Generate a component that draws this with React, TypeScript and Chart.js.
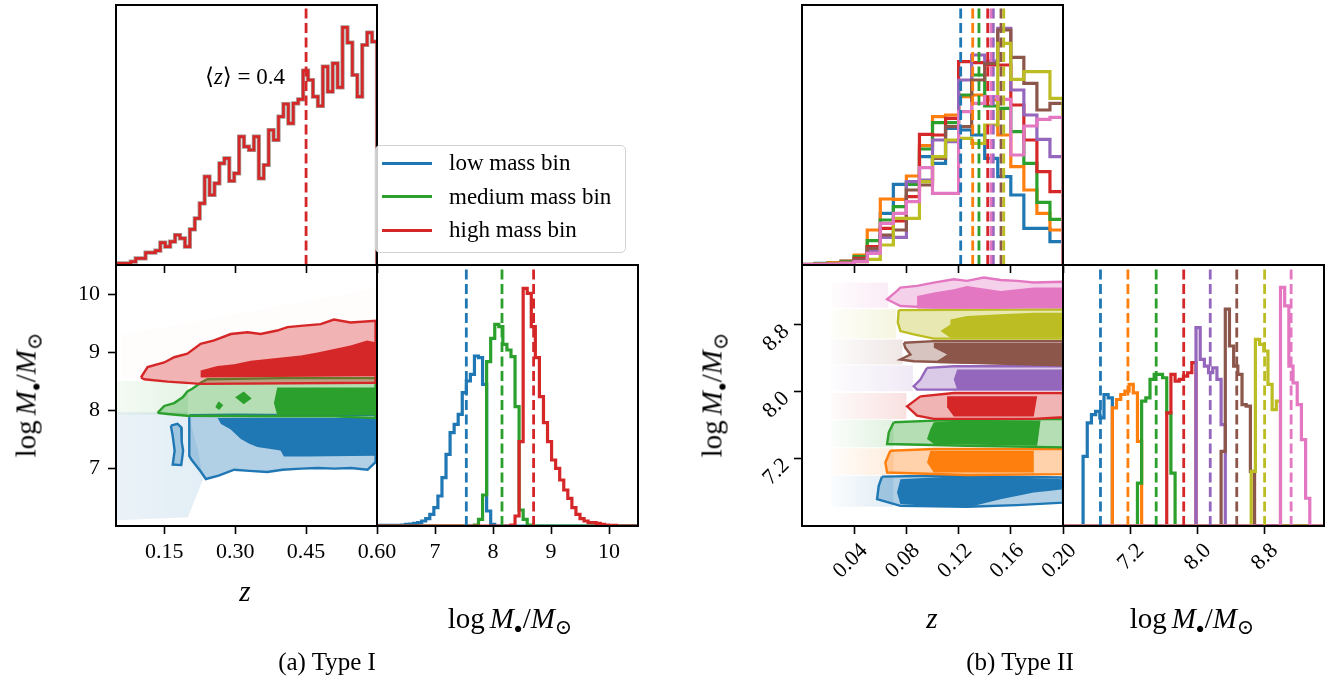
import React, { useEffect, useRef } from "react";
import { Chart, registerables } from "chart.js";
Chart.register(...registerables);

// ================= DATA: (a) Type I =================
const t1ZRange = [0.048, 0.6];
const t1MRange = [6.0, 10.5];
const t1ZTicks = [0.15, 0.3, 0.45, 0.6];
const t1ZTickLabels = ["0.15", "0.30", "0.45", "0.60"];
const t1MTicks = [7, 8, 9, 10];
const t1MTickLabels = ["7", "8", "9", "10"];
const t1ZHist = [5, 5, 5, 10, 20, 20, 37, 37, 43, 67, 55, 70, 90, 80, 55, 107, 140, 185, 265, 210, 245, 305, 320, 252, 275, 385, 355, 345, 385, 260, 300, 405, 375, 445, 483, 425, 485, 497, 583, 555, 505, 477, 595, 520, 605, 533, 713, 667, 570, 505, 660, 697, 670];
const t1ZHistMax = 780;
const t1MeanZ = 0.45;
const t1MeanZText = "0.4";
const t1MassBinWidth = 0.07;
const t1LowStart = 6.0;
const t1LowCounts = [2, 2, 2, 2, 2, 2, 3, 5, 6, 8, 10, 15, 22, 35, 55, 90, 145, 215, 280, 305, 335, 400, 435, 455, 510, 505, 425, 45, 5];
const t1MedStart = 7.68;
const t1MedCounts = [3, 20, 93, 493, 563, 605, 598, 545, 528, 508, 358, 48, 20, 3];
const t1HighStart = 8.31;
const t1HighCounts = [3, 30, 253, 713, 698, 598, 505, 388, 310, 253, 198, 173, 138, 108, 83, 55, 35, 22, 15, 10, 10, 8, 5, 3, 2, 2];
const t1MHistMax = 783;
const t1MedianM = [7.54, 8.155, 8.7];
const t1LegendLabels = ["low mass bin", "medium mass bin", "high mass bin"];

// contours / point clouds (z, logM)
const t1LowCloud = [[0.05, 7.96], [0.2, 7.96], [0.222, 7.3], [0.232, 6.8], [0.2, 6.15], [0.05, 6.1]];
const t1MedCloud = [[0.05, 8.5], [0.2, 8.5], [0.2, 7.92], [0.05, 7.92]];
const t1HighCloud = [[0.06, 8.55], [0.597, 8.55], [0.597, 10.1], [0.06, 9.3]];
const t1LowOuter = [[0.203, 7.91], [0.3, 7.92], [0.45, 7.91], [0.597, 7.92], [0.597, 7.1], [0.58, 6.97], [0.545, 7.0], [0.51, 6.99], [0.475, 7.0], [0.44, 6.99], [0.4, 6.97], [0.368, 6.93], [0.33, 6.95], [0.298, 6.97], [0.265, 6.87], [0.238, 6.81], [0.228, 6.93], [0.207, 7.15], [0.203, 7.21]];
const t1LowLobe = [[0.164, 7.73], [0.178, 7.76], [0.186, 7.7], [0.187, 7.45], [0.19, 7.3], [0.186, 7.05], [0.168, 7.06], [0.172, 7.3], [0.168, 7.55]];
const t1LowInner = [[0.263, 7.86], [0.4, 7.86], [0.597, 7.86], [0.597, 7.21], [0.45, 7.2], [0.403, 7.2], [0.396, 7.3], [0.347, 7.36], [0.33, 7.42], [0.312, 7.5], [0.29, 7.67], [0.27, 7.76]];
const t1MedOuter = [[0.136, 7.95], [0.15, 8.07], [0.171, 8.12], [0.189, 8.22], [0.199, 8.32], [0.21, 8.37], [0.227, 8.47], [0.2415, 8.53], [0.4, 8.55], [0.597, 8.55], [0.597, 7.86], [0.509, 7.89], [0.368, 7.89], [0.199, 7.9], [0.157, 7.93]];
const t1MedInner = [[0.389, 8.39], [0.597, 8.39], [0.597, 7.91], [0.389, 7.91], [0.382, 8.12]];
const t1MedBlobA = [[0.3, 8.22], [0.318, 8.32], [0.335, 8.2], [0.318, 8.1]];
const t1MedBlobB = [[0.258, 8.05], [0.265, 8.15], [0.275, 8.08], [0.266, 8.0]];
const t1HighOuter = [[0.1007, 8.56], [0.1148, 8.74], [0.15, 8.82], [0.171, 8.91], [0.199, 8.97], [0.227, 9.14], [0.2556, 9.2], [0.2908, 9.31], [0.326, 9.34], [0.354, 9.31], [0.389, 9.37], [0.4105, 9.43], [0.4386, 9.45], [0.481, 9.48], [0.509, 9.56], [0.544, 9.51], [0.597, 9.54], [0.597, 8.47], [0.227, 8.45], [0.157, 8.49], [0.1078, 8.53]];
const t1HighInner = [[0.227, 8.68], [0.2626, 8.76], [0.2978, 8.79], [0.333, 8.85], [0.368, 8.88], [0.403, 8.91], [0.4386, 8.94], [0.474, 8.99], [0.509, 9.05], [0.544, 9.11], [0.579, 9.2], [0.597, 9.17], [0.597, 8.58], [0.227, 8.56]];

// ================= DATA: (b) Type II =================
const t2ZRange = [0, 0.2];
const t2MRange = [6.39, 9.51];
const t2ZTicks = [0.04, 0.08, 0.12, 0.16, 0.2];
const t2ZTickLabels = ["0.04", "0.08", "0.12", "0.16", "0.20"];
const t2MTicks = [7.2, 8.0, 8.8];
const t2MTickLabels = ["7.2", "8.0", "8.8"];
const t2ZBinWidth = 0.01;
const t2ZHistMax = 780;
const t2MHistMax = 780;
const t2MassBinWidth = 0.05;
// per mass bin (blue, orange, green, red, purple, brown, olive, pink)
const t2ZHistBlue = [2, 5, 7, 12, 25, 53, 155, 242, 247, 325, 305, 410, 405, 390, 320, 265, 210, 110, 110, 70];
const t2ZHistOrange = [2, 4, 7, 12, 30, 105, 198, 197, 267, 358, 445, 450, 505, 510, 495, 390, 295, 225, 155, 105];
const t2ZHistGreen = [1, 3, 5, 10, 25, 73, 135, 175, 242, 348, 427, 427, 510, 570, 477, 470, 400, 305, 188, 137];
const t2ZHistRed = [1, 2, 4, 8, 20, 55, 110, 132, 205, 392, 390, 440, 610, 607, 600, 600, 480, 375, 280, 220];
const t2ZHistPurple = [1, 2, 3, 6, 15, 40, 83, 83, 250, 255, 375, 370, 555, 630, 612, 710, 525, 450, 377, 325];
const t2ZHistBrown = [1, 2, 3, 6, 15, 50, 90, 105, 225, 240, 320, 415, 415, 555, 605, 705, 623, 545, 465, 485];
const t2ZHistOlive = [1, 2, 3, 5, 10, 17, 60, 140, 140, 250, 325, 375, 380, 365, 420, 665, 557, 580, 580, 500];
const t2ZHistPink = [1, 2, 3, 5, 10, 35, 125, 155, 190, 292, 215, 215, 460, 485, 505, 497, 330, 417, 437, 443];
const t2MeanZ = [0.1216, 0.1308, 0.1356, 0.1423, 0.1466, 0.1525, 0.1546, 0.1448];
const t2MStarts = [6.63, 6.98, 7.28, 7.63, 7.98, 8.28, 8.64, 8.99];
const t2MHistBlue = [208, 308, 333, 343, 323, 393, 383];
const t2MHistOrange = [353, 378, 393, 403, 423, 398, 253];
const t2MHistGreen = [128, 373, 383, 438, 453, 453, 443, 338, 158];
const t2MHistRed = [338, 453, 433, 438, 448, 458, 488];
const t2MHistPurple = [593, 498, 478, 458, 473, 438, 303];
const t2MHistBrown = [223, 648, 538, 478, 453, 363, 358, 163];
const t2MHistOlive = [163, 558, 543, 523, 423, 348, 373];
const t2MHistPink = [713, 658, 478, 428, 363, 258, 83];
const t2MedianM = [6.838, 7.166, 7.504, 7.833, 8.15, 8.467, 8.8, 9.117];

const t2Clouds = [
  [[0.022, 6.62], [0.07, 6.62], [0.07, 6.99], [0.022, 6.99]],
  [[0.022, 7.0], [0.07, 7.0], [0.07, 7.32], [0.022, 7.32]],
  [[0.022, 7.33], [0.07, 7.33], [0.07, 7.66], [0.022, 7.66]],
  [[0.022, 7.67], [0.08, 7.67], [0.08, 7.98], [0.022, 7.98]],
  [[0.022, 8.0], [0.085, 8.0], [0.085, 8.31], [0.022, 8.31]],
  [[0.022, 8.32], [0.077, 8.32], [0.077, 8.62], [0.022, 8.62]],
  [[0.022, 8.63], [0.072, 8.63], [0.072, 8.98], [0.022, 8.98]],
  [[0.022, 9.0], [0.066, 9.0], [0.066, 9.3], [0.022, 9.3]],
];
const t2Outer = [
  [[0.0613, 6.98], [0.101, 6.99], [0.2, 6.97], [0.2, 6.67], [0.1649, 6.64], [0.1265, 6.62], [0.0754, 6.63], [0.0575, 6.71], [0.0588, 6.87]],
  [[0.0677, 7.29], [0.101, 7.31], [0.2, 7.31], [0.2, 7.01], [0.1265, 7.0], [0.0652, 7.03], [0.0639, 7.15]],
  [[0.0703, 7.63], [0.101, 7.65], [0.2, 7.67], [0.2, 7.33], [0.1265, 7.35], [0.0652, 7.37], [0.0665, 7.51]],
  [[0.0907, 7.94], [0.1163, 7.98], [0.2, 7.98], [0.2, 7.69], [0.1776, 7.67], [0.101, 7.67], [0.0882, 7.71], [0.0805, 7.82], [0.0856, 7.88]],
  [[0.0958, 8.28], [0.1163, 8.3], [0.2, 8.3], [0.2, 8.02], [0.0882, 8.02], [0.0856, 8.06], [0.0907, 8.14]],
  [[0.078, 8.58], [0.101, 8.6], [0.2, 8.6], [0.2, 8.31], [0.0856, 8.36], [0.0754, 8.38], [0.0831, 8.44], [0.0792, 8.52]],
  [[0.0741, 8.97], [0.2, 8.98], [0.2, 8.63], [0.101, 8.63], [0.0856, 8.68], [0.0754, 8.72], [0.0734, 8.82]],
  [[0.0728, 9.2], [0.0754, 9.24], [0.0882, 9.26], [0.101, 9.3], [0.1163, 9.34], [0.1265, 9.32], [0.1393, 9.36], [0.1521, 9.33], [0.1649, 9.32], [0.1776, 9.3], [0.2, 9.31], [0.2, 9.02], [0.1521, 9.0], [0.101, 9.0], [0.0754, 9.02], [0.0677, 9.08], [0.0652, 9.1]],
];
const t2Inner = [
  [[0.0754, 6.95], [0.1265, 6.99], [0.2, 6.95], [0.2, 6.83], [0.1904, 6.81], [0.1776, 6.79], [0.1521, 6.71], [0.1265, 6.61], [0.0754, 6.65], [0.0728, 6.79]],
  [[0.0984, 7.29], [0.1776, 7.29], [0.1776, 7.03], [0.101, 7.03], [0.0958, 7.15]],
  [[0.101, 7.63], [0.1214, 7.65], [0.1828, 7.65], [0.1802, 7.35], [0.101, 7.37], [0.0958, 7.43], [0.0984, 7.55]],
  [[0.1112, 7.94], [0.1802, 7.94], [0.1776, 7.7], [0.1163, 7.7], [0.1112, 7.81]],
  [[0.1189, 8.26], [0.2, 8.26], [0.2, 8.02], [0.1189, 8.02], [0.1163, 8.14]],
  [[0.101, 8.58], [0.2, 8.58], [0.2, 8.31], [0.101, 8.34], [0.1112, 8.44], [0.101, 8.52]],
  [[0.1137, 8.86], [0.1265, 8.9], [0.1521, 8.92], [0.1776, 8.94], [0.2, 8.94], [0.2, 8.64], [0.1137, 8.64], [0.1061, 8.72], [0.1137, 8.8]],
  [[0.0882, 9.02], [0.0882, 9.14], [0.101, 9.18], [0.1163, 9.22], [0.1265, 9.26], [0.1521, 9.2], [0.1776, 9.24], [0.2, 9.24], [0.2, 8.99], [0.0882, 8.99]],
];

// ================= STYLE =================
const W = 1340;
const H = 681;
const FONT = "'Liberation Serif', 'Times New Roman', 'DejaVu Serif', serif";
const C = {
  blue: [31, 119, 180], orange: [255, 127, 14], green: [44, 160, 44], red: [214, 39, 40],
  purple: [148, 103, 189], brown: [140, 86, 75], olive: [188, 189, 34], pink: [227, 119, 194],
};
const rgba = (c: number[], a = 1) => `rgba(${c[0]},${c[1]},${c[2]},${a})`;
const t1Colors = [C.blue, C.green, C.red];
const t2Colors = [C.blue, C.orange, C.green, C.red, C.purple, C.brown, C.olive, C.pink];
const LW = 3.2;

// ================= HELPERS =================
function histPoints(start: number, width: number, counts: number[], lo: number, hi: number) {
  const pts: any[] = [{ x: lo, y: 0 }, { x: start, y: 0 }];
  counts.forEach((c, i) => pts.push({ x: start + i * width, y: c }));
  const end = start + counts.length * width;
  pts.push({ x: end, y: counts[counts.length - 1] });
  pts.push({ x: end, y: 0 });
  pts.push({ x: hi, y: 0 });
  return pts;
}
const hist = (start: number, width: number, counts: number[], lo: number, hi: number, color: string, lw = LW) => ({
  data: histPoints(start, width, counts, lo, hi), borderColor: color, borderWidth: lw,
  stepped: "before", fill: false, pointRadius: 0,
});
const vline = (x: number, top: number, color: number[]) => ({
  data: [{ x, y: 0 }, { x, y: top }], borderColor: rgba(color), borderWidth: 2.8,
  borderDash: [10, 4.5], fill: false, pointRadius: 0,
});
const closed = (pts: number[][]) => [...pts, pts[0]].map(([x, y]) => ({ x, y }));
const region = (pts: number[][], fillCol: any, stroke?: string, width = 1) => ({
  data: closed(pts), backgroundColor: fillCol, borderColor: stroke || "rgba(0,0,0,0)", borderWidth: stroke ? width : 1,
  fill: "shape", pointRadius: 0,
});
// faint point-cloud: horizontal fade (denser towards the contours)
const cloud = (pts: number[][], color: number[], aL: number, aR: number) => region(pts, (ctx: any) => {
  const chart = ctx.chart;
  const area = chart.chartArea;
  if (!area) return rgba(color, aR);
  const xs = pts.map((p) => p[0]);
  const x0 = chart.scales.x.getPixelForValue(Math.min(...xs));
  const x1 = chart.scales.x.getPixelForValue(Math.max(...xs));
  const g = chart.ctx.createLinearGradient(x0, 0, x1, 0);
  g.addColorStop(0, rgba(color, aL));
  g.addColorStop(1, rgba(color, aR));
  return g;
});

const framePlugin = {
  id: "frame",
  afterDatasetsDraw(chart: any) {
    const { ctx, chartArea: a } = chart;
    ctx.save();
    ctx.strokeStyle = "#000";
    ctx.lineWidth = 2;
    ctx.strokeRect(a.left, a.top, a.right - a.left, a.bottom - a.top);
    ctx.restore();
  },
};

type AxisSpec = { range: number[]; ticks?: number[]; labels?: string[]; rot?: number; off?: number; pad?: number };
const XH = 60;
const YW = 80;
function axisCfg(kind: "x" | "y", a: AxisSpec) {
  const show = !!a.ticks;
  return {
    type: "linear",
    position: kind === "x" ? "bottom" : "left",
    min: a.range[0],
    max: a.range[1],
    display: show,
    afterBuildTicks: (s: any) => { if (a.ticks) s.ticks = a.ticks.map((v) => ({ value: v })); },
    afterFit: (s: any) => { if (!show) return; if (kind === "x") s.height = XH; else s.width = YW; },
    grid: { display: true, drawOnChartArea: false, drawTicks: true, tickLength: 8, tickWidth: 1.6, tickColor: "#000" },
    border: { display: false },
    ticks: {
      display: !!a.labels, autoSkip: false, color: "#000",
      font: { family: FONT, size: 22 },
      padding: a.pad ?? 5,
      minRotation: a.rot || 0, maxRotation: a.rot || 0,
      labelOffset: a.off || 0,
      callback: (_v: any, i: number) => (a.labels ? a.labels[i] : ""),
    },
  };
}
function makeConfig(box: number[], xa: AxisSpec, ya: AxisSpec, datasets: any[]) {
  const xShow = !!xa.ticks;
  const yShow = !!ya.ticks;
  return {
    type: "line",
    data: { datasets: datasets.map((d, i) => ({ ...d, order: datasets.length - i })) },
    options: {
      responsive: false, animation: false, devicePixelRatio: 1, events: [],
      layout: { padding: { left: box[0] - (yShow ? YW : 0), top: box[1], right: W - box[2], bottom: H - box[3] - (xShow ? XH : 0) } },
      plugins: { legend: { display: false }, tooltip: { enabled: false } },
      scales: { x: axisCfg("x", xa), y: axisCfg("y", ya) },
      elements: { point: { radius: 0 }, line: { tension: 0 } },
    },
    plugins: [framePlugin],
  };
}

// ================= PANELS =================
const A = { x0: 116, x1: 377, x2: 638 };
const B = { x0: 802, x1: 1063, x2: 1324 };
const Y = { y0: 5, y1: 265, y2: 526 };

const t1MassSeries = [
  [t1LowStart, t1LowCounts], [t1MedStart, t1MedCounts], [t1HighStart, t1HighCounts],
] as [number, number[]][];
const t2ZSeries = [t2ZHistBlue, t2ZHistOrange, t2ZHistGreen, t2ZHistRed, t2ZHistPurple, t2ZHistBrown, t2ZHistOlive, t2ZHistPink];
const t2MSeries = [t2MHistBlue, t2MHistOrange, t2MHistGreen, t2MHistRed, t2MHistPurple, t2MHistBrown, t2MHistOlive, t2MHistPink];
const t1ZBinWidth = (t1ZRange[1] - t1ZRange[0]) / t1ZHist.length;

const configs = [
  // (a) top: z histogram (grey halo under the red step line)
  () => makeConfig([A.x0, Y.y0, A.x1, Y.y1], { range: t1ZRange, ticks: t1ZTicks }, { range: [0, t1ZHistMax] }, [
    hist(t1ZRange[0], t1ZBinWidth, t1ZHist, t1ZRange[0], t1ZRange[1], "rgba(90,70,60,0.55)", 4.2),
    hist(t1ZRange[0], t1ZBinWidth, t1ZHist, t1ZRange[0], t1ZRange[1], rgba(C.red), 2.6),
    vline(t1MeanZ, t1ZHistMax, C.red),
  ]),
  // (a) z vs logM
  () => makeConfig([A.x0, Y.y1, A.x1, Y.y2],
    { range: t1ZRange, ticks: t1ZTicks, labels: t1ZTickLabels },
    { range: t1MRange, ticks: t1MTicks, labels: t1MTickLabels, pad: 8 }, [
    cloud(t1LowCloud, C.blue, 0.09, 0.13),
    cloud(t1MedCloud, C.green, 0.05, 0.12),
    region(t1HighCloud, rgba(C.red, 0.012)),
    region(t1LowOuter, rgba(C.blue, 0.35), rgba(C.blue), 2.4),
    region(t1LowLobe, rgba(C.blue, 0.35), rgba(C.blue), 2.4),
    region(t1LowInner, rgba(C.blue)),
    region(t1MedOuter, rgba(C.green, 0.35), rgba(C.green), 2.4),
    region(t1MedInner, rgba(C.green)),
    region(t1MedBlobA, rgba(C.green)),
    region(t1MedBlobB, rgba(C.green)),
    region(t1HighOuter, rgba(C.red, 0.35), rgba(C.red), 2.4),
    region(t1HighInner, rgba(C.red)),
  ]),
  // (a) logM histogram
  () => makeConfig([A.x1, Y.y1, A.x2, Y.y2], { range: t1MRange, ticks: t1MTicks, labels: t1MTickLabels }, { range: [0, t1MHistMax] }, [
    ...t1MassSeries.map(([s, c], i) => hist(s, t1MassBinWidth, c, t1MRange[0], t1MRange[1], rgba(t1Colors[i]))),
    ...t1MedianM.map((m, i) => vline(m, t1MHistMax, t1Colors[i])),
  ]),
  // (b) top: z histograms
  () => makeConfig([B.x0, Y.y0, B.x1, Y.y1], { range: t2ZRange, ticks: t2ZTicks }, { range: [0, t2ZHistMax] }, [
    ...t2ZSeries.map((c, i) => hist(t2ZRange[0], t2ZBinWidth, c, t2ZRange[0], t2ZRange[1], rgba(t2Colors[i]))),
    ...t2MeanZ.map((m, i) => vline(m, t2ZHistMax, t2Colors[i])),
  ]),
  // (b) z vs logM
  () => makeConfig([B.x0, Y.y1, B.x1, Y.y2],
    { range: t2ZRange, ticks: t2ZTicks, labels: t2ZTickLabels, rot: 45, off: 10, pad: 4 },
    { range: t2MRange, ticks: t2MTicks, labels: t2MTickLabels, rot: 45, off: 4, pad: 8 }, [
    ...t2Clouds.map((p, i) => cloud(p, t2Colors[i], 0.02, 0.14)),
    ...t2Outer.flatMap((p, i) => [
      region(p, rgba(t2Colors[i], 0.35), rgba(t2Colors[i]), 2.4),
      region(t2Inner[i], rgba(t2Colors[i])),
    ]),
  ]),
  // (b) logM histograms
  () => makeConfig([B.x1, Y.y1, B.x2, Y.y2], { range: t2MRange, ticks: t2MTicks, labels: t2MTickLabels, rot: 45, off: 10, pad: 4 }, { range: [0, t2MHistMax] }, [
    ...t2MSeries.map((c, i) => hist(t2MStarts[i], t2MassBinWidth, c, t2MRange[0], t2MRange[1], rgba(t2Colors[i]))),
    ...t2MedianM.map((m, i) => vline(m, t2MHistMax, t2Colors[i])),
  ]),
];

function ChartLayer({ make }: { make: () => any }) {
  const ref = useRef<HTMLCanvasElement>(null);
  useEffect(() => {
    const chart = new Chart(ref.current as HTMLCanvasElement, make());
    return () => chart.destroy();
  }, []);
  return <canvas ref={ref} width={W} height={H} style={{ position: "absolute", left: 0, top: 0, width: W, height: H }} />;
}

function Txt({ x, y, size, rot, children }: any) {
  return (
    <div style={{
      position: "absolute", left: x, top: y, transform: `translate(-50%,-50%)${rot ? ` rotate(${rot}deg)` : ""}`,
      fontFamily: FONT, fontSize: size, whiteSpace: "nowrap", lineHeight: 1, color: "#000",
    }}>{children}</div>
  );
}

function MassLabel() {
  return (
    <span>
      log<span style={{ display: "inline-block", width: 5 }} />
      <i>M</i>
      <span style={{ fontSize: "0.5em", position: "relative", top: "0.35em" }}>●</span>
      /<i>M</i>
      <span style={{ fontSize: "0.72em", position: "relative", top: "0.3em" }}>⊙</span>
    </span>
  );
}

function Legend() {
  return (
    <div style={{
      position: "absolute", left: 375, top: 145, width: 251, height: 108, boxSizing: "border-box",
      border: "1.5px solid #d2d2d2", borderRadius: 5, background: "rgba(255,255,255,0.8)",
    }}>
      {t1LegendLabels.map((lab, i) => (
        <React.Fragment key={lab}>
          <div style={{ position: "absolute", left: 6, top: 17 + i * 33.5 - 1.5, width: 50, height: 3, background: rgba(t1Colors[i]) }} />
          <div style={{ position: "absolute", left: 73, top: 17 + i * 33.5 - 13, fontFamily: FONT, fontSize: 23, lineHeight: "26px", whiteSpace: "nowrap" }}>{lab}</div>
        </React.Fragment>
      ))}
    </div>
  );
}

export default function App() {
  return (
    <div style={{ position: "absolute", left: 0, top: 0, width: W, height: H, background: "#fff", overflow: "hidden" }}>
      {configs.map((mk, i) => <ChartLayer key={i} make={mk} />)}
      <Legend />
      <Txt x={245} y={76} size={23}>⟨<i>z</i>⟩ = {t1MeanZText}</Txt>
      <Txt x={245} y={591} size={29}><i>z</i></Txt>
      <Txt x={510} y={618} size={29}><MassLabel /></Txt>
      <Txt x={26} y={395} size={29} rot={-90}><MassLabel /></Txt>
      <Txt x={932} y={618} size={29}><i>z</i></Txt>
      <Txt x={1192} y={618} size={29}><MassLabel /></Txt>
      <Txt x={712} y={395} size={29} rot={-90}><MassLabel /></Txt>
      <Txt x={327} y={661} size={25}>(a) Type I</Txt>
      <Txt x={1020} y={661} size={25}>(b) Type II</Txt>
    </div>
  );
}
